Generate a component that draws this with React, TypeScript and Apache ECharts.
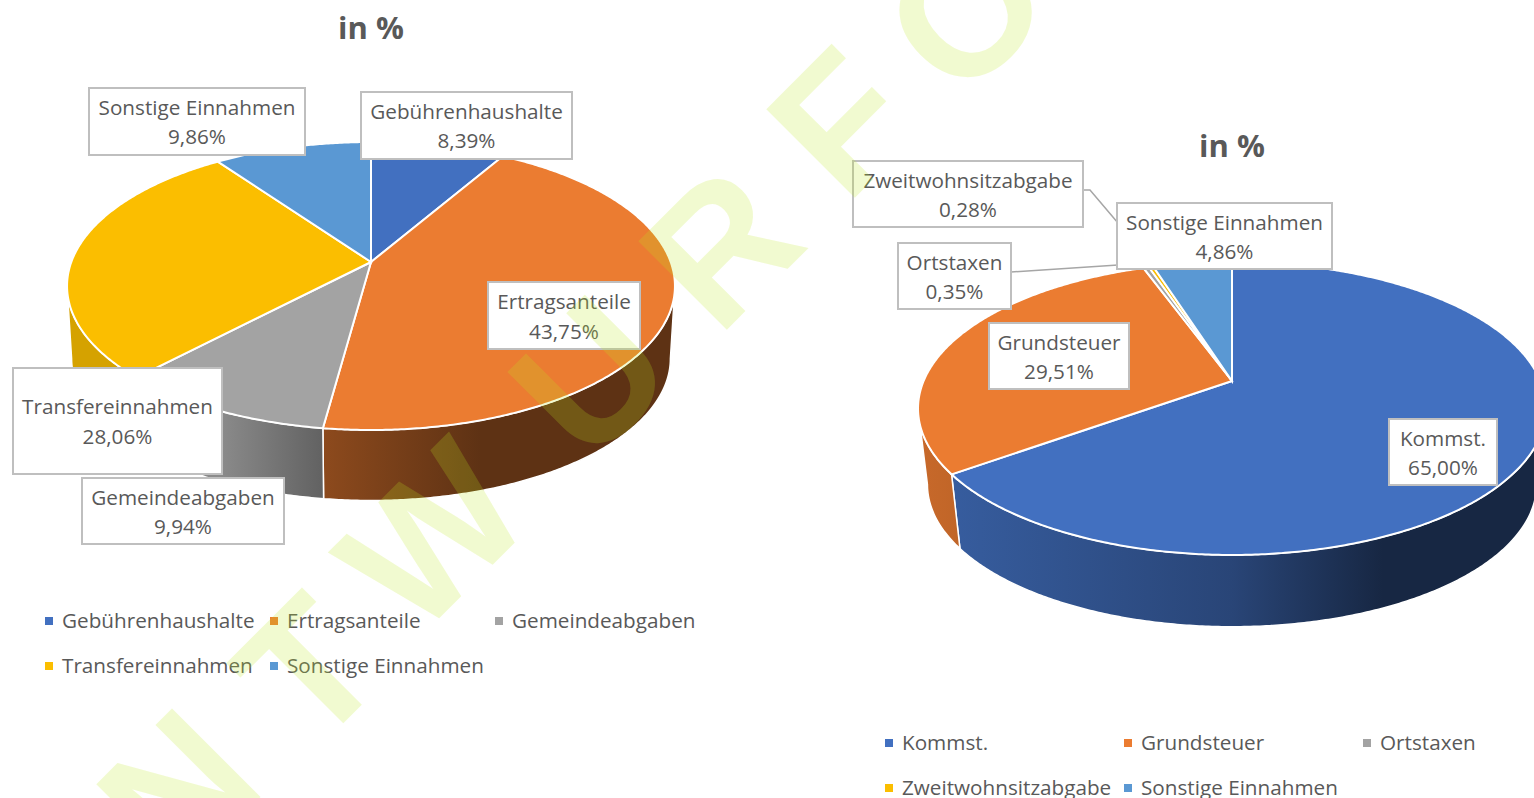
import React, { useEffect, useRef } from "react";
import * as echarts from "echarts";

const leftNames = ["Gebührenhaushalte", "Ertragsanteile", "Gemeindeabgaben", "Transfereinnahmen", "Sonstige Einnahmen"];
const leftValues = [8.39, 43.75, 9.94, 28.06, 9.86];
const leftColors = ["#4270C0", "#EB7C31", "#A3A3A3", "#FBBE00", "#5A98D3"];

const rightNames = ["Kommst.", "Grundsteuer", "Ortstaxen", "Zweitwohnsitzabgabe", "Sonstige Einnahmen"];
const rightValues = [65.0, 29.51, 0.35, 0.28, 4.86];
const rightColors = ["#4270C0", "#EB7C31", "#A3A3A3", "#FBBE00", "#5A98D3"];

const titleText = "in %";
const FONT = '"Open Sans", sans-serif';
const TEXT = "#595959";
const BORDER = "#BFBFBF";

type Geo = { x0: number; y0: number; A: number; B: number; k: number; dy: number; f: number; ramp: number[][]; xa: number; xb: number };
const leftGeo: Geo = { x0: 371, y0: 262, A: 299.7, B: 140, k: 1 / 6, dy: 73, f: 0.985, xa: 67, xb: 675,
  ramp: [[0, 0.85], [0.25, 0.85], [0.42, 0.6], [0.68, 0.4], [1, 0.4]] };
const rightGeo: Geo = { x0: 1232, y0: 381, A: 308.4, B: 141.3, k: 0.1877, dy: 77, f: 0.97, xa: 918, xb: 1546,
  ramp: [[0, 0.85], [0.1, 0.8], [0.5, 0.62], [0.74, 0.35], [1, 0.35]] };

// label boxes: x, y, w, h, line1 y, line2 y
const leftBoxes = [
  [361, 92, 211, 67, 111, 140],
  [488, 282, 152, 67, 301, 331],
  [82, 478, 202, 66, 497, 526],
  [13, 368, 209, 106, 406, 436],
  [89, 88, 216, 67, 107, 136],
];
const rightBoxes = [
  [1389, 419, 108, 66, 438, 467],
  [989, 323, 140, 66, 342, 371],
  [898, 243, 113, 66, 262, 291],
  [853, 161, 230, 66, 180, 209],
  [1117, 203, 215, 66, 222, 251],
];
const drawOrder = [2, 3, 0, 1, 4];
const leaderLines = [
  [[1011, 272], [1118, 265]],
  [[1083, 190], [1090, 190], [1118, 223]],
];

const watermarkLetters = ["N", "T", "W", "U", "R", "F", "O"];
const watermarkOrigins = [[196, 901], [333, 773], [436, 661], [608, 488], [738, 358], [866, 226], [980, 125]];

function shade(hex: string, f: number) {
  const n = parseInt(hex.slice(1), 16);
  const c = [(n >> 16) & 255, (n >> 8) & 255, n & 255].map((v) => Math.round(v * f));
  return `rgb(${c[0]},${c[1]},${c[2]})`;
}

function project(g: Geo, deg: number, lower: boolean) {
  const t = (deg * Math.PI) / 180;
  const u = Math.cos(t);
  const v = Math.sin(t);
  const s = 1 / (1 + g.k * u);
  const f = lower ? g.f : 1;
  return [g.x0 + g.A * f * v * s, g.y0 + (lower ? g.dy : 0) - g.B * f * u * s];
}

function arc(g: Geo, a: number, b: number, lower: boolean) {
  const pts: number[][] = [];
  const n = Math.max(2, Math.ceil((b - a) * 2));
  for (let i = 0; i <= n; i++) pts.push(project(g, a + ((b - a) * i) / n, lower));
  return pts;
}

function starts(values: number[]) {
  const out: number[] = [];
  let s = 0;
  values.forEach((v) => { out.push(s); s += v; });
  return out;
}

function pieSeries(values: number[], colors: string[], g: Geo) {
  const cum = starts(values);
  const data = values.map((v, i) => [v, cum[i]]);
  const edge = (Math.acos(-g.k) * 180) / Math.PI;
  const thR = edge;
  const thL = 360 - edge;
  const walls = {
    type: "custom",
    coordinateSystem: "none",
    silent: true,
    z: 1,
    data,
    renderItem: (p: any, api: any) => {
      const v = api.value(0);
      const c = api.value(1);
      const a = Math.max((c / 100) * 360, thR);
      const b = Math.min(((c + v) / 100) * 360, thL);
      if (a >= b) return { type: "group", children: [] };
      const pts = [...arc(g, a, b, false), ...arc(g, a, b, true).reverse()];
      const color = colors[p.dataIndex];
      return {
        type: "polygon",
        shape: { points: pts },
        style: {
          fill: {
            type: "linear", x: g.xa, y: 0, x2: g.xb, y2: 0, global: true,
            colorStops: g.ramp.map(([o, f]) => ({ offset: o, color: shade(color, f) })),
          },
          stroke: "#FFFFFF",
          lineWidth: 1.5,
        },
      };
    },
  };
  const tops = {
    type: "custom",
    coordinateSystem: "none",
    silent: true,
    z: 2,
    data,
    renderItem: (p: any, api: any) => {
      const v = api.value(0);
      const c = api.value(1);
      const a = (c / 100) * 360;
      const b = ((c + v) / 100) * 360;
      const pts = [[g.x0, g.y0], ...arc(g, a, b, false)];
      return {
        type: "polygon",
        shape: { points: pts },
        style: { fill: colors[p.dataIndex], stroke: "#FFFFFF", lineWidth: 2 },
      };
    },
  };
  return [walls, tops];
}

function labelGraphics(names: string[], values: number[], boxes: number[][]) {
  const out: any[] = [];
  drawOrder.forEach((i) => {
    const [x, y, w, h, l1, l2] = boxes[i];
    out.push({ type: "rect", z: 10, shape: { x, y, width: w, height: h }, style: { fill: "#FFFFFF", stroke: BORDER, lineWidth: 2 } });
    const pct = values[i].toFixed(2).replace(".", ",") + "%";
    [[names[i], l1], [pct, l2]].forEach(([t, ty]) =>
      out.push({
        type: "text", z: 11, x: x + w / 2, y: ty as number,
        style: { text: t as string, font: `20.7px ${FONT}`, fill: TEXT, textAlign: "center", textVerticalAlign: "middle" },
      })
    );
  });
  return out;
}

function legendGraphics(names: string[], colors: string[], cols: number[], rows: number[]) {
  const out: any[] = [];
  names.forEach((n, i) => {
    const x = cols[i % 3];
    const y = rows[Math.floor(i / 3)];
    out.push({ type: "rect", z: 5, shape: { x, y: y - 4, width: 8, height: 8 }, style: { fill: colors[i] } });
    out.push({
      type: "text", z: 5, x: x + 17, y: y - 1,
      style: { text: n, font: `20.7px ${FONT}`, fill: TEXT, textAlign: "left", textVerticalAlign: "middle" },
    });
  });
  return out;
}

export default function App() {
  const ref = useRef<HTMLDivElement>(null);
  useEffect(() => {
    document.body.style.margin = "0";
    const chart = echarts.init(ref.current!, undefined, { renderer: "svg" });
    const leaders = leaderLines.map((pts) => ({
      type: "polyline", z: 9, shape: { points: pts }, style: { stroke: "#A6A6A6", lineWidth: 1.5, fill: "none" },
    }));
    const watermark = watermarkLetters.map((t, i) => ({
      type: "text", z: 100, x: watermarkOrigins[i][0], y: watermarkOrigins[i][1], rotation: Math.PI / 4, silent: true,
      style: {
        text: t, font: 'bold 182px "Liberation Sans", sans-serif', fill: "rgba(190,233,33,0.21)",
        textAlign: "left", textVerticalAlign: "bottom",
      },
    }));
    chart.setOption({
      animation: false,
      backgroundColor: "#FFFFFF",
      title: [
        { text: titleText, left: 366, top: 6, textAlign: "center", textStyle: { fontFamily: FONT, fontWeight: "bold", fontSize: 31, color: TEXT } },
        { text: titleText, left: 1227, top: 124, textAlign: "center", textStyle: { fontFamily: FONT, fontWeight: "bold", fontSize: 31, color: TEXT } },
      ],
      series: [...pieSeries(leftValues, leftColors, leftGeo), ...pieSeries(rightValues, rightColors, rightGeo)],
      graphic: {
        elements: [
          ...leaders,
          ...labelGraphics(leftNames, leftValues, leftBoxes),
          ...labelGraphics(rightNames, rightValues, rightBoxes),
          ...legendGraphics(leftNames, leftColors, [45, 270, 495], [621, 666]),
          ...legendGraphics(rightNames, rightColors, [885, 1124, 1363], [743, 788]),
          ...watermark,
        ],
      },
    });
    return () => chart.dispose();
  }, []);
  return <div ref={ref} style={{ position: "fixed", left: 0, top: 0, width: 1534, height: 798 }} />;
}
